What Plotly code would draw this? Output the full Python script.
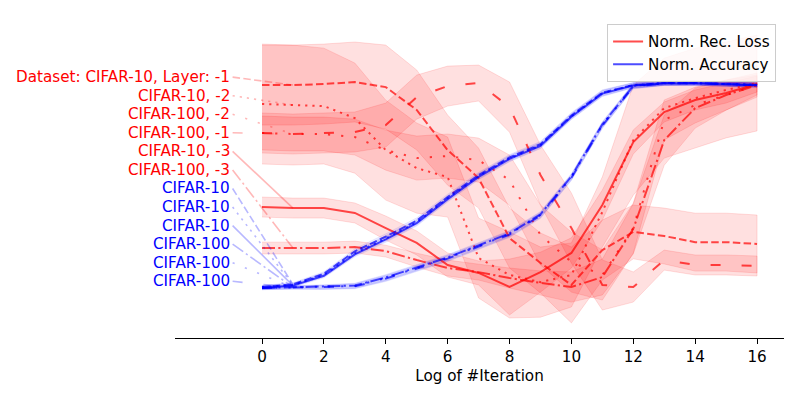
import plotly.graph_objects as go

# ---------------- data (normalized values) ----------------
iters = list(range(17))

# Normalized reconstruction loss (mean) and spread, 6 runs
loss_c10_l1 = [0.995, 0.995, 1.0, 1.010, 0.985, 0.873, 0.676, 0.539, 0.245, 0.123, 0.015, 0.186, 0.275, 0.255, 0.225, 0.225, 0.216]
loss_c10_l1_std = [0.196, 0.196, 0.196, 0.196, 0.206, 0.196, 0.172, 0.147, 0.147, 0.147, 0.186, 0.147, 0.132, 0.137, 0.142, 0.142, 0.142]

loss_c10_l2 = [0.902, 0.897, 0.892, 0.833, 0.676, 0.588, 0.544, 0.147, 0.064, 0.029, 0.064, 0.373, 0.725, 0.882, 0.931, 0.971, 1.005]
loss_c10_l2_std = [0.294, 0.294, 0.284, 0.270, 0.245, 0.221, 0.196, 0.196, 0.211, 0.172, 0.157, 0.172, 0.270, 0.245, 0.245, 0.235, 0.235]

loss_c100_l2 = [0.760, 0.755, 0.755, 0.740, 0.676, 0.637, 0.647, 0.627, 0.529, 0.260, 0.127, 0.064, 0.294, 0.824, 0.897, 0.946, 0.995]
loss_c100_l2_std = [0.083, 0.083, 0.083, 0.088, 0.098, 0.108, 0.108, 0.108, 0.123, 0.147, 0.147, 0.123, 0.123, 0.098, 0.088, 0.074, 0.059]

loss_c100_l1 = [0.760, 0.755, 0.760, 0.765, 0.799, 0.936, 0.990, 1.005, 0.887, 0.554, 0.294, 0.015, 0.005, 0.137, 0.113, 0.113, 0.108]
loss_c100_l1_std = [0.098, 0.098, 0.098, 0.098, 0.108, 0.108, 0.098, 0.088, 0.123, 0.147, 0.172, 0.123, 0.074, 0.049, 0.049, 0.049, 0.049]

loss_c10_l3 = [0.397, 0.392, 0.392, 0.368, 0.294, 0.221, 0.113, 0.074, 0.005, 0.078, 0.172, 0.407, 0.716, 0.863, 0.922, 0.956, 1.0]
loss_c10_l3_std = [0.049, 0.049, 0.049, 0.049, 0.059, 0.059, 0.059, 0.059, 0.137, 0.098, 0.074, 0.074, 0.059, 0.049, 0.049, 0.049, 0.039]

loss_c100_l3 = [0.196, 0.196, 0.196, 0.201, 0.181, 0.137, 0.098, 0.078, 0.049, 0.025, 0.005, 0.054, 0.290, 0.725, 0.882, 0.946, 0.995]
loss_c100_l3_std = [0.029, 0.029, 0.029, 0.029, 0.029, 0.034, 0.039, 0.039, 0.049, 0.059, 0.074, 0.088, 0.123, 0.123, 0.098, 0.074, 0.049]

# Normalized accuracy (mean) and spread, 6 runs
acc_c10_a = [0.005, 0.018, 0.070, 0.180, 0.252, 0.330, 0.446, 0.553, 0.640, 0.705, 0.846, 0.958, 0.995, 1.005, 1.005, 1.0, 0.995]
acc_c10_b = [0.005, 0.015, 0.064, 0.170, 0.243, 0.322, 0.440, 0.548, 0.636, 0.700, 0.842, 0.955, 0.995, 1.004, 1.004, 1.0, 0.996]
acc_c10_c = [0.0, 0.012, 0.060, 0.165, 0.238, 0.318, 0.436, 0.545, 0.633, 0.697, 0.840, 0.953, 0.993, 1.003, 1.004, 0.999, 0.994]
acc_c100_a = [0.0, 0.004, 0.006, 0.012, 0.052, 0.101, 0.150, 0.209, 0.268, 0.361, 0.547, 0.802, 0.991, 1.005, 1.005, 1.0, 0.995]
acc_c100_b = [0.0, 0.003, 0.004, 0.010, 0.049, 0.098, 0.147, 0.206, 0.265, 0.358, 0.544, 0.799, 0.990, 1.004, 1.005, 1.0, 0.996]
acc_c100_c = [0.0, 0.002, 0.003, 0.008, 0.046, 0.095, 0.144, 0.203, 0.262, 0.355, 0.541, 0.796, 0.988, 1.003, 1.004, 0.999, 0.994]
acc_std = [0.008, 0.008, 0.010, 0.012, 0.014, 0.014, 0.014, 0.014, 0.014, 0.014, 0.014, 0.014, 0.012, 0.010, 0.010, 0.010, 0.010]

label_texts = ["Dataset: CIFAR-10, Layer: -1", "CIFAR-10, -2", "CIFAR-100, -2", "CIFAR-100, -1",
               "CIFAR-10, -3", "CIFAR-100, -3", "CIFAR-10", "CIFAR-10", "CIFAR-10",
               "CIFAR-100", "CIFAR-100", "CIFAR-100"]
label_y = [1.034, 0.943, 0.852, 0.761, 0.670, 0.579, 0.488, 0.397, 0.306, 0.215, 0.124, 0.033]

legend_names = ["Norm. Rec. Loss", "Norm. Accuracy"]
x_ticks = [0, 2, 4, 6, 8, 10, 12, 14, 16]

# ---------------- styles ----------------
RED_LINE = "rgba(255,0,0,0.7)"
BLUE_LINE = "rgba(0,0,255,0.7)"
RED_FILL = "rgba(255,0,0,0.12)"
BLUE_FILL = "rgba(0,0,255,0.07)"
RED_CONN = "rgba(255,0,0,0.28)"
BLUE_CONN = "rgba(0,0,255,0.28)"
DASHED = "7.5px,3.3px"
DOTTED = "2.2px,5px"
LOOSE_DOT = "2.2px,11px"
LOOSE_DASH = "10px,21px"
DASHDOT = "13px,3.3px,2.2px,3.3px"

series = [
    (loss_c10_l1, loss_c10_l1_std, "red", DASHED),
    (loss_c10_l2, loss_c10_l2_std, "red", DOTTED),
    (loss_c100_l2, loss_c100_l2_std, "red", LOOSE_DOT),
    (loss_c100_l1, loss_c100_l1_std, "red", LOOSE_DASH),
    (loss_c10_l3, loss_c10_l3_std, "red", "solid"),
    (loss_c100_l3, loss_c100_l3_std, "red", DASHDOT),
    (acc_c10_a, acc_std, "blue", DASHED),
    (acc_c10_b, acc_std, "blue", DOTTED),
    (acc_c10_c, acc_std, "blue", "solid"),
    (acc_c100_a, acc_std, "blue", DASHDOT),
    (acc_c100_b, acc_std, "blue", LOOSE_DOT),
    (acc_c100_c, acc_std, "blue", LOOSE_DASH),
]

FONT = "DejaVu Sans"
FS = 15.2
fig = go.Figure()

# legend entries
fig.add_trace(go.Scatter(x=[None], y=[None], mode="lines", name=legend_names[0],
                         line=dict(color=RED_LINE, width=2)))
fig.add_trace(go.Scatter(x=[None], y=[None], mode="lines", name=legend_names[1],
                         line=dict(color=BLUE_LINE, width=2)))

# bands
for vals, std, col, dash in series:
    upper = [v + s for v, s in zip(vals, std)]
    lower = [v - s for v, s in zip(vals, std)]
    fill = RED_FILL if col == "red" else BLUE_FILL
    fig.add_trace(go.Scatter(
        x=iters + iters[::-1], y=upper + lower[::-1], mode="lines", fill="toself",
        fillcolor=fill, line=dict(color=fill, width=1), showlegend=False, hoverinfo="skip"))

# lines
for vals, std, col, dash in series:
    fig.add_trace(go.Scatter(
        x=iters, y=vals, mode="lines", showlegend=False,
        line=dict(color=RED_LINE if col == "red" else BLUE_LINE, width=2, dash=dash)))

# labels with connectors
annotations = []
for (vals, std, col, dash), txt, ly in zip(series, label_texts, label_y):
    fig.add_trace(go.Scatter(
        x=[-0.95, iters[1]], y=[ly, vals[1]], mode="lines", showlegend=False, hoverinfo="skip",
        line=dict(color=RED_CONN if col == "red" else BLUE_CONN, width=1.6, dash=dash)))
    annotations.append(dict(
        x=-1.0, y=ly, xref="x", yref="y", text=txt, showarrow=False,
        xanchor="right", yanchor="middle", borderpad=0,
        font=dict(family=FONT, size=FS, color="red" if col == "red" else "blue")))

# the page body has an 8px default margin, so margins are offset by 8px
fig.update_layout(
    width=800, height=400, autosize=False,
    margin=dict(l=167, r=24, t=12, b=70),
    paper_bgcolor="white", plot_bgcolor="white",
    font=dict(family=FONT, size=FS, color="black"),
    annotations=annotations,
    legend=dict(x=0.987, y=0.987, xanchor="right", yanchor="top",
                bgcolor="rgba(255,255,255,0.8)", bordercolor="#cccccc", borderwidth=1,
                font=dict(family=FONT, size=FS, color="black"), itemwidth=30,
                tracegroupgap=0),
    xaxis=dict(range=[-2.812, 16.871], tickvals=x_ticks, ticktext=[str(t) for t in x_ticks],
               showline=True, linecolor="black", linewidth=1.1, ticks="outside",
               ticklen=5, tickwidth=1.1, tickcolor="black", showgrid=False, zeroline=False,
               tickfont=dict(family=FONT, size=FS, color="black"),
               title=dict(text="Log of #Iteration", standoff=5,
                          font=dict(family=FONT, size=FS, color="black"))),
    yaxis=dict(range=[-0.245, 1.314], showticklabels=False, showline=False, showgrid=False,
               zeroline=False, ticks=""),
)

fig.write_html("out.html")
